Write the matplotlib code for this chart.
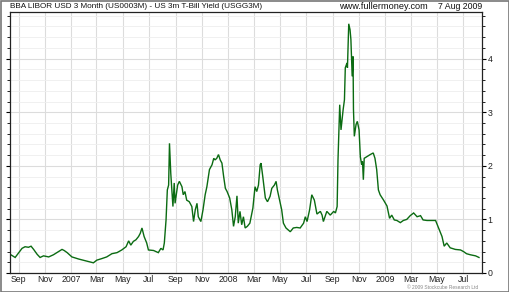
import matplotlib
matplotlib.use("Agg")
import matplotlib.pyplot as plt
import matplotlib.dates as mdates
from matplotlib.ticker import MultipleLocator, FixedLocator, FuncFormatter
from matplotlib.patches import Rectangle
import pandas as pd

plt.rcParams['font.family'] = ['Liberation Sans', 'DejaVu Sans']

title_left = "BBA LIBOR USD 3 Month (US0003M) - US 3m T-Bill Yield (USGG3M)"
site_text = "www.fullermoney.com"
date_text = "7 Aug 2009"
copyright_text = "\u00a9 2009 Stockcube Research Ltd"

dates = [
    "2006-08-14", "2006-08-24", "2006-09-09", "2006-09-16", "2006-09-24", "2006-09-30",
    "2006-10-06", "2006-10-14", "2006-10-21", "2006-10-29", "2006-11-10", "2006-11-21",
    "2006-12-03", "2006-12-11", "2006-12-16", "2006-12-23", "2007-01-03", "2007-01-19",
    "2007-02-03", "2007-02-14", "2007-02-22", "2007-03-02", "2007-03-14", "2007-03-25",
    "2007-04-06", "2007-04-18", "2007-04-29", "2007-05-09", "2007-05-15", "2007-05-20",
    "2007-05-26", "2007-06-01", "2007-06-07", "2007-06-11", "2007-06-15", "2007-06-20",
    "2007-06-26", "2007-06-30", "2007-07-12", "2007-07-23", "2007-07-29", "2007-08-03",
    "2007-08-06", "2007-08-10", "2007-08-13", "2007-08-16", "2007-08-18", "2007-08-21",
    "2007-08-26", "2007-08-29", "2007-08-31", "2007-09-06", "2007-09-10", "2007-09-16",
    "2007-09-19", "2007-09-23", "2007-09-27", "2007-10-03", "2007-10-09", "2007-10-13",
    "2007-10-17", "2007-10-21", "2007-10-24", "2007-10-30", "2007-11-04", "2007-11-09",
    "2007-11-13", "2007-11-19", "2007-11-25", "2007-11-29", "2007-12-02", "2007-12-06",
    "2007-12-10", "2007-12-14", "2007-12-18", "2007-12-22", "2007-12-26", "2007-12-30",
    "2008-01-05", "2008-01-10", "2008-01-14", "2008-01-18", "2008-01-22", "2008-01-25",
    "2008-01-29", "2008-02-02", "2008-02-06", "2008-02-10", "2008-02-15", "2008-02-21",
    "2008-02-28", "2008-03-04", "2008-03-08", "2008-03-12", "2008-03-16", "2008-03-18",
    "2008-03-22", "2008-03-28", "2008-04-02", "2008-04-08", "2008-04-12", "2008-04-18",
    "2008-04-22", "2008-04-25", "2008-04-30", "2008-05-05", "2008-05-09", "2008-05-15",
    "2008-05-25", "2008-06-01", "2008-06-09", "2008-06-17", "2008-06-25", "2008-06-29",
    "2008-07-03", "2008-07-09", "2008-07-14", "2008-07-20", "2008-07-26", "2008-08-03",
    "2008-08-07", "2008-08-10", "2008-08-18", "2008-08-26", "2008-09-03", "2008-09-07",
    "2008-09-11", "2008-09-13", "2008-09-17", "2008-09-20", "2008-09-25", "2008-09-28",
    "2008-09-30", "2008-10-04", "2008-10-05", "2008-10-08", "2008-10-11", "2008-10-13",
    "2008-10-16", "2008-10-18", "2008-10-19", "2008-10-21", "2008-10-25", "2008-10-28",
    "2008-11-01", "2008-11-04", "2008-11-07", "2008-11-09", "2008-11-11", "2008-11-13",
    "2008-11-19", "2008-11-27", "2008-12-04", "2008-12-08", "2008-12-12", "2008-12-16",
    "2008-12-20", "2008-12-28", "2009-01-05", "2009-01-11", "2009-01-16", "2009-01-22",
    "2009-01-28", "2009-02-05", "2009-02-12", "2009-02-20", "2009-02-28", "2009-03-08",
    "2009-03-16", "2009-03-24", "2009-03-30", "2009-04-08", "2009-04-20", "2009-04-28",
    "2009-05-05", "2009-05-13", "2009-05-18", "2009-05-24", "2009-06-01", "2009-06-13",
    "2009-06-25", "2009-07-02", "2009-07-09", "2009-07-18", "2009-07-30", "2009-08-07",
]

spread = [
    0.34, 0.29, 0.46, 0.49, 0.48, 0.50,
    0.44, 0.35, 0.29, 0.32, 0.30, 0.34,
    0.40, 0.44, 0.42, 0.38, 0.30, 0.26,
    0.23, 0.21, 0.19, 0.24, 0.27, 0.30,
    0.36, 0.38, 0.43, 0.49, 0.60, 0.52,
    0.59, 0.62, 0.68, 0.74, 0.84, 0.68,
    0.56, 0.43, 0.42, 0.38, 0.46, 0.43,
    0.56, 0.99, 1.55, 1.64, 2.42, 1.86,
    1.24, 1.68, 1.30, 1.64, 1.71, 1.61,
    1.46, 1.52, 1.36, 1.33, 1.24, 0.96,
    1.18, 1.30, 1.05, 0.96, 1.18, 1.46,
    1.61, 1.93, 2.02, 2.14, 2.11, 2.14,
    2.21, 2.11, 2.05, 1.80, 1.58, 1.52,
    1.40, 1.18, 0.87, 1.05, 1.44, 0.93,
    1.15, 0.90, 1.05, 0.84, 0.87, 0.93,
    1.21, 1.61, 1.52, 1.64, 2.02, 2.05,
    1.80, 1.40, 1.33, 1.43, 1.58, 1.64,
    1.71, 1.55, 1.36, 1.18, 0.93, 0.84,
    0.77, 0.84, 0.85, 0.84, 0.93, 1.05,
    0.96, 1.18, 1.46, 1.36, 1.10, 1.15,
    1.08, 0.96, 1.15, 1.08, 1.15, 1.12,
    1.24, 2.11, 3.14, 2.67, 3.05, 3.23,
    3.83, 3.92, 3.83, 4.65, 4.54, 4.36,
    3.67, 4.04, 3.05, 2.55, 2.77, 2.83,
    2.67, 2.17, 2.02, 2.08, 1.74, 2.14,
    2.17, 2.21, 2.24, 2.14, 1.93, 1.55,
    1.46, 1.36, 1.25, 1.02, 1.08, 0.99,
    0.98, 0.94, 0.98, 1.00, 1.07, 1.12,
    1.05, 1.07, 0.99, 0.98, 0.98, 0.98,
    0.84, 0.68, 0.50, 0.56, 0.47, 0.44,
    0.43, 0.40, 0.36, 0.34, 0.32, 0.29,
]

y_ticks = [0, 1, 2, 3, 4]
x_start = "2006-08-12"
x_end = "2009-08-14"

W, H = 510, 292
fig = plt.figure(figsize=(W / 100, H / 100), dpi=100)
fig.patch.set_facecolor("white")
ax = fig.add_axes([10 / W, 1 - 273 / H, 472 / W, 261 / H])

x = pd.to_datetime(dates)
ax.plot(x, spread, color="#0b6b12", lw=1.0, solid_joinstyle="miter")

ax.set_xlim(pd.Timestamp(x_start), pd.Timestamp(x_end))
ax.set_ylim(0, 4.87)

# x axis
ax.xaxis.set_major_locator(mdates.MonthLocator(bymonth=[1, 3, 5, 7, 9, 11]))
ax.xaxis.set_major_formatter(FuncFormatter(
    lambda v, p: (mdates.num2date(v).strftime("%Y") if mdates.num2date(v).month == 1
                  else mdates.num2date(v).strftime("%b"))))
ax.tick_params(axis="x", length=0, pad=1.5, labelsize=6.3, labelcolor="#222222")

# y axis on right
ax.yaxis.tick_right()
ax.yaxis.set_major_locator(FixedLocator(y_ticks))
ax.yaxis.set_minor_locator(MultipleLocator(0.2))
ax.tick_params(axis="y", which="major", length=3, width=0.8, pad=1,
               labelsize=6.3, labelcolor="#222222", right=True, left=True)
ax.tick_params(axis="y", which="minor", length=2, width=0.6, right=True, left=True)
ax.tick_params(axis="y", which="both", direction="out")

ax.grid(True, which="major", axis="x", color="#dcdcdc", lw=0.8)
ax.grid(True, which="major", axis="y", color="#dcdcdc", lw=0.8)
ax.grid(True, which="minor", axis="y", color="#eeeeee", lw=0.6)
ax.set_axisbelow(True)

for s in ax.spines.values():
    s.set_color("#222222")
    s.set_linewidth(0.9)

fig.text(10 / W, 1 - 6.5 / H, title_left, fontsize=5.9, va="center", ha="left", color="#111111")
fig.text(428 / W, 1 - 6.5 / H, site_text, fontsize=6.6, va="center", ha="right", color="#111111")
fig.text(482 / W, 1 - 6.5 / H, date_text, fontsize=6.3, va="center", ha="right", color="#111111")
fig.text(478 / W, 1 - 287.5 / H, copyright_text, fontsize=3.5, va="center", ha="right", color="#888888")

fig.patches.append(Rectangle((0.5 / W, 0.5 / H), 1 - 1.5 / W, 1 - 1.5 / H,
                             transform=fig.transFigure, fill=False,
                             edgecolor="#777777", lw=1.2))

fig.savefig("out.png", dpi=100)
